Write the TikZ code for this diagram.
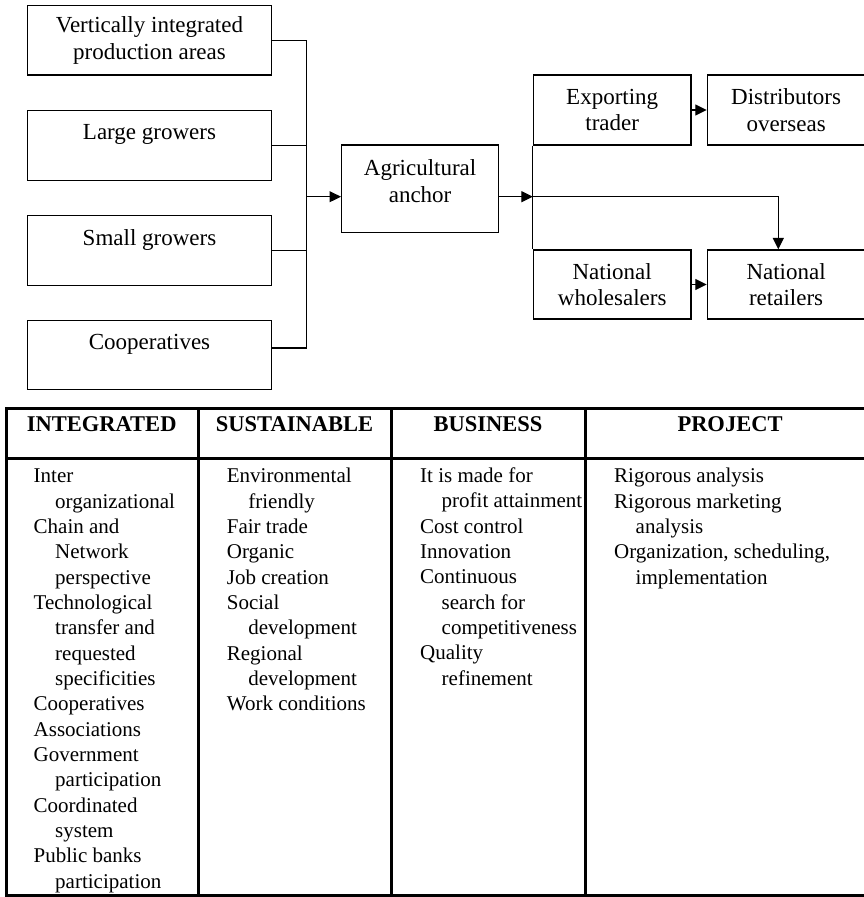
\documentclass[tikz,border=0pt]{standalone}
\usepackage{fontspec}
\setmainfont{Liberation Serif}
\usetikzlibrary{arrows.meta}
\newcommand\hangin{\hspace*{21.5pt}}
\begin{document}
\begin{tikzpicture}[x=1pt,y=-1pt,
  box/.style={draw,line width=1.2pt,rectangle,inner sep=0pt,align=center,
    font=\fontsize{23}{26.7}\selectfont},
  srcbox/.style={box,minimum width=244pt,minimum height=69.5pt},
  sinkbox/.style={box,minimum width=157.5pt,minimum height=70pt},
  flow/.style={line width=1.1pt},
  arr/.style={flow,-{Triangle[length=11.5pt,width=11pt]}},
  rule/.style={line width=3pt,line join=miter},
  head/.style={font=\fontsize{22.5}{27}\selectfont\bfseries,anchor=base,inner sep=0pt},
  col/.style={font=\fontsize{21}{25.33}\selectfont,align=left,anchor=base west,inner sep=0pt},
]
\useasboundingbox (0,0) rectangle (863,897);

% producers
\node[srcbox] (v1) at (149.5,40.3) {Vertically integrated\\production areas};
\node[srcbox] (v2) at (149.5,145.5) {Large growers\\\mbox{}};
\node[srcbox] (v3) at (149.5,250.5) {Small growers\\\mbox{}};
\node[srcbox] (v4) at (149.5,355) {Cooperatives\\\mbox{}};

% anchor firm
\node[box,minimum width=157pt,minimum height=87.3pt] (anchor) at (420.1,188.7)
  {Agricultural\\anchor\\[-11pt]\mbox{}};

% markets
\node[sinkbox] (exp) at (612.2,110) {Exporting\\trader};
\node[sinkbox] (dist) at (786.1,110) {Distributors\\overseas};
\node[sinkbox,minimum height=69pt] (whole) at (612.2,284.5) {National\\wholesalers};
\node[sinkbox,minimum height=69pt] (ret) at (786.1,284.5) {National\\retailers};

% collecting bus on the left
\coordinate (jl) at (306.7,196.7);
\coordinate (v4e) at ([yshift=7pt]v4.east);
\draw[flow] (v1.east) -| (jl);
\draw[flow] (v4e) -| (jl);
\draw[flow] (v2.east) -- (v2.east -| jl);
\draw[flow] (v3.east) -- (v3.east -| jl);
\draw[arr] (jl) -- (jl -| anchor.west);

% distribution bus on the right
\coordinate (jr) at (exp.south west |- jl);
\coordinate (turn) at (778.3,196.7);
\draw[arr] (jl -| anchor.east) -- (jr);
\draw[flow] (exp.south west) -- (whole.north west);
\draw[arr] (jr) -- (turn) -- (turn |- ret.north);
\draw[arr] (exp.east) -- (dist.west);
\draw[arr] (whole.east) -- (ret.west);

% table frame
\draw[rule] (875,408.5) -- (6,408.5) -- (6,895.8) -- (875,895.8);
\draw[rule] (6,458.5) -- (875,458.5);
\draw[rule] (198.5,408.5) -- (198.5,895.8);
\draw[rule] (391.5,408.5) -- (391.5,895.8);
\draw[rule] (585,408.5) -- (585,895.8);

% headings
\node[head] (hInt) at (101.7,431.5) {INTEGRATED};
\node[head] (hSus) at (294.5,431.5) {SUSTAINABLE};
\node[head] (hBus) at (488,431.5) {BUSINESS};
\node[head] (hPro) at (730,431.5) {PROJECT};

% columns (placed by the baseline of their last line; first baseline at 482.7)
\node[col] (cInt) at (33.5,888.0) {Inter\\\hangin organizational\\Chain and\\\hangin Network\\\hangin perspective\\Technological\\\hangin transfer and\\\hangin requested\\\hangin specificities\\Cooperatives\\Associations\\Government\\\hangin participation\\Coordinated\\\hangin system\\Public banks\\\hangin participation};
\node[col] (cSus) at (226.7,710.7) {Environmental\\\hangin friendly\\Fair trade\\Organic\\Job creation\\Social\\\hangin development\\Regional\\\hangin development\\Work conditions};
\node[col] (cBus) at (420,685.3) {It is made for\\\hangin profit attainment\\Cost control\\Innovation\\Continuous\\\hangin search for\\\hangin competitiveness\\Quality\\\hangin refinement};
\node[col] (cPro) at (614,584.0) {Rigorous analysis\\Rigorous marketing\\\hangin analysis\\Organization, scheduling,\\\hangin implementation};
\end{tikzpicture}
\end{document}
